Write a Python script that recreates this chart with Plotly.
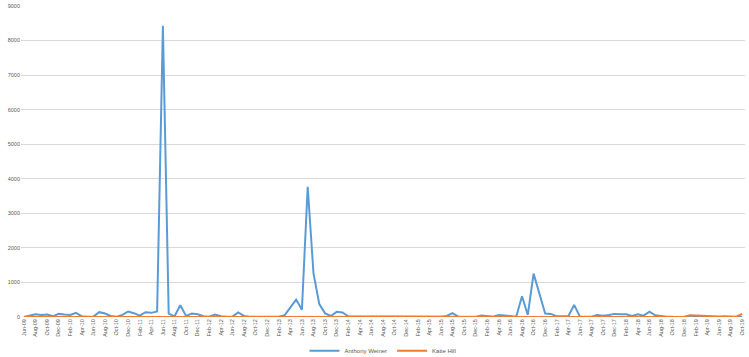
import plotly.graph_objects as go

# Months Jun-09 .. Oct-19
mon_names = ["Jan", "Feb", "Mar", "Apr", "May", "Jun", "Jul", "Aug", "Sep", "Oct", "Nov", "Dec"]
months = []
y, m = 2009, 6
while (y, m) <= (2019, 10):
    months.append(f"{mon_names[m-1]}-{str(y)[2:]}")
    m += 1
    if m > 12:
        m = 1
        y += 1

anthony_weiner = [
    0, 30, 80, 60, 70, 20, 90, 70, 60, 120,      # Jun-09 .. Mar-10
    20, 10, 10, 140, 100, 30, 10, 60, 160, 110,  # Apr-10 .. Jan-11
    40, 140, 120, 160, 8430, 100, 20, 340, 30, 100,  # Feb-11 .. Nov-11
    80, 20, 10, 70, 20, 10, 10, 130, 30, 10,     # Dec-11 .. Sep-12
    10, 20, 10, 20, 10, 50, 280, 505, 210, 3770, # Oct-12 .. Jul-13
    1260, 375, 105, 30, 150, 130, 20, 20, 10, 20,  # Aug-13 .. May-14
    20, 20, 10, 10, 20, 5, 5, 5, 5, 15,          # Jun-14 .. Mar-15
    10, 5, 5, 30, 110, 10, 5, 0, 0, 40,          # Apr-15 .. Jan-16
    20, 10, 60, 40, 10, 10, 600, 60, 1255, 650,  # Feb-16 .. Nov-16
    100, 90, 20, 20, 20, 350, 10, 10, 10, 60,    # Dec-16 .. Sep-17
    40, 60, 90, 80, 80, 30, 80, 40, 155, 50,     # Oct-17 .. Jul-18
    20, 10, 5, 0, 0, 0, 0, 0, 0, 0,              # Aug-18 .. May-19
    0, 0, 0, 0, 0,                               # Jun-19 .. Oct-19
]

katie_hill = [0] * 113 + [15, 5, 50, 40, 35, 20, 30, 15, 20, 10, 10, 90]

tick_labels = months[::2]

fig = go.Figure()
fig.add_trace(go.Scatter(x=months, y=anthony_weiner, mode="lines", name="Anthony Weiner",
                         line=dict(color="#5B9BD5", width=2)))
fig.add_trace(go.Scatter(x=months, y=katie_hill, mode="lines", name="Katie Hill",
                         line=dict(color="#ED7D31", width=2)))

fig.update_layout(
    width=749, height=357,
    margin=dict(l=21, r=4, t=6, b=40, autoexpand=False),
    paper_bgcolor="white", plot_bgcolor="white",
    font=dict(family="Liberation Sans", size=6, color="#595959"),
    showlegend=True,
    legend=dict(orientation="h", x=0.5, xanchor="center", y=-0.062, yanchor="top",
                font=dict(size=6, color="#595959"), itemwidth=30,
                tracegroupgap=0, bgcolor="rgba(0,0,0,0)"),
    xaxis=dict(type="category", categoryorder="array", categoryarray=months,
               range=[-0.5, len(months) - 0.5], automargin=False,
               tickmode="array", tickvals=tick_labels, ticktext=tick_labels,
               tickangle=-90, showgrid=False, showline=False, ticks="",
               tickfont=dict(size=5.5, color="#595959"), zeroline=False),
    yaxis=dict(range=[0, 9000], dtick=1000, showgrid=True, gridcolor="#D9D9D9",
               gridwidth=1, zeroline=False, showline=False, ticks="", automargin=False,
               tickfont=dict(size=5.5, color="#595959")),
)

fig.write_html("out.html", config={"displayModeBar": False},
               post_script="document.body.style.margin='0';document.body.style.overflow='hidden';")
